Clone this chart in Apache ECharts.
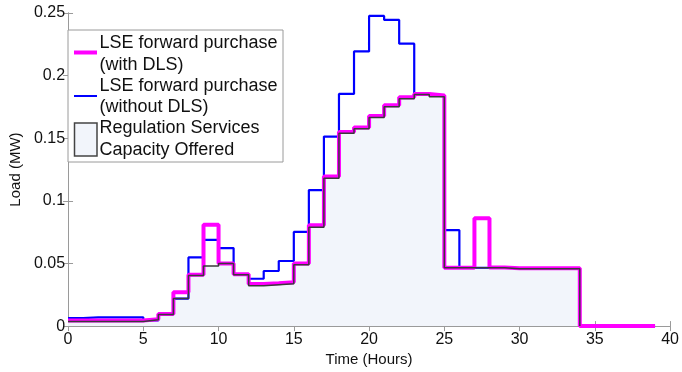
<!DOCTYPE html>
<html>
<head>
<meta charset="utf-8">
<script src="https://cdn.jsdelivr.net/npm/echarts@6/dist/echarts.min.js"></script>
<style>
  html, body { margin: 0; padding: 0; background: #fff; }
  #chart { width: 682px; height: 372px; }
</style>
</head>
<body>
<div id="chart"></div>
<script>
// Hourly load levels (MW); entry i holds the level over hour [i, i+1].
// The final entry is the closing point of each staircase.
const withDLS = [
  0.0045, 0.0045, 0.0045, 0.0045, 0.0045, 0.0055, 0.0096, 0.0270, 0.0410, 0.0810,
  0.0500, 0.0414, 0.0336, 0.0342, 0.0350, 0.0500, 0.0805, 0.1195, 0.1550, 0.1586,
  0.1677, 0.1763, 0.1828, 0.1854, 0.1841, 0.0466, 0.0466, 0.0862, 0.0468, 0.0462,
  0.0462, 0.0462, 0.0462, 0.0462, 0, 0, 0, 0, 0, 0
];
const withoutDLS = [
  0.0063, 0.0070, 0.0070, 0.0070, 0.0070, 0.0045, 0.0096, 0.0220, 0.0548, 0.0688,
  0.0623, 0.0414, 0.0378, 0.0440, 0.0520, 0.0752, 0.1086, 0.1513, 0.1854, 0.2193,
  0.2477, 0.2445, 0.2255, 0.1854, 0.1841, 0.0766, 0.0466, 0.0466, 0.0466, 0.0462,
  0.0462, 0.0462, 0.0462, 0.0462, 0, 0, 0, 0, 0, 0
];
const regulationOffered = [
  0.0037, 0.0037, 0.0037, 0.0037, 0.0037, 0.0050, 0.0092, 0.0220, 0.0405, 0.0480,
  0.0500, 0.0410, 0.0322, 0.0330, 0.0338, 0.0490, 0.0790, 0.1180, 0.1540, 0.1575,
  0.1665, 0.1752, 0.1815, 0.1850, 0.1832, 0.0466, 0.0466, 0.0466, 0.0466, 0.0458,
  0.0458, 0.0458, 0.0458, 0.0458, 0
];
const xTicks = { min: 0, max: 40, interval: 5 };
const yTicks = { min: 0, max: 0.25, interval: 0.05 };
const legendLabels = [
  ['LSE forward purchase', '(with DLS)'],
  ['LSE forward purchase', '(without DLS)'],
  ['Regulation Services', 'Capacity Offered']
];

const FONT = '"Liberation Sans", Arial, Helvetica, sans-serif';
const AXIS_GRAY = '#9a9a9a';
const FILL = '#f2f5fb';

const toPoints = arr => arr.map((v, hour) => [hour, v]);

const baseX = {
  type: 'value', min: xTicks.min, max: xTicks.max, interval: xTicks.interval,
  axisLine: { show: true, lineStyle: { color: AXIS_GRAY, width: 1 } },
  axisTick: { show: true, inside: true, length: 5, lineStyle: { color: AXIS_GRAY } },
  splitLine: { show: false }
};
const baseY = {
  type: 'value', min: yTicks.min, max: yTicks.max, interval: yTicks.interval,
  axisLine: { show: true, lineStyle: { color: AXIS_GRAY, width: 1 } },
  axisTick: { show: true, inside: true, length: 5, lineStyle: { color: AXIS_GRAY } },
  splitLine: { show: false }
};

const chart = echarts.init(document.getElementById('chart'), null, { renderer: 'canvas' });

function legendGraphic() {
  const left = 68, top = 30;
  const els = [
    { type: 'rect', shape: { x: left, y: top, width: 215, height: 132 },
      style: { fill: '#fff', stroke: '#9a9a9a', lineWidth: 1 } },
    { type: 'line', shape: { x1: 74, y1: 52.5, x2: 97, y2: 52.5 },
      style: { stroke: '#ff00ff', lineWidth: 4 } },
    { type: 'line', shape: { x1: 74, y1: 96, x2: 97, y2: 96 },
      style: { stroke: '#0000ff', lineWidth: 2 } },
    { type: 'rect', shape: { x: 74.5, y: 123, width: 22.5, height: 33 },
      style: { fill: FILL, stroke: '#444', lineWidth: 1.5 } }
  ];
  const rows = [[43, 65], [86, 107.5], [128.5, 150]];
  legendLabels.forEach((lines, i) => {
    lines.forEach((t, j) => {
      els.push({ type: 'text', x: 99.5, y: rows[i][j],
        style: { text: t, font: '18px ' + FONT, fill: '#111', verticalAlign: 'middle', align: 'left' } });
    });
  });
  return els.map(e => Object.assign({ z: 100 }, e));
}

chart.setOption({
  animation: false,
  backgroundColor: '#fff',
  grid: { left: 59, right: 9, top: 13, bottom: 39, containLabel: false },
  xAxis: [
    Object.assign({}, baseX, {
      position: 'bottom',
      name: 'Time (Hours)', nameLocation: 'middle', nameGap: 21,
      nameTextStyle: { fontFamily: FONT, fontSize: 15, color: '#111' },
      axisLabel: { fontFamily: FONT, fontSize: 16, color: '#111', margin: 5 }
    }),
    Object.assign({}, baseX, { position: 'top', axisLabel: { show: false } })
  ],
  yAxis: [
    Object.assign({}, baseY, {
      position: 'left',
      name: 'Load (MW)', nameLocation: 'middle', nameGap: 37,
      nameTextStyle: { fontFamily: FONT, fontSize: 15, color: '#111' },
      axisLabel: { fontFamily: FONT, fontSize: 16, color: '#111', margin: 3 }
    }),
    Object.assign({}, baseY, { position: 'right', axisLabel: { show: false } })
  ],
  series: [
    {
      name: 'Regulation Services Capacity Offered (area)',
      type: 'line', step: 'end', data: toPoints(regulationOffered),
      showSymbol: false, symbol: 'none', z: 1,
      lineStyle: { width: 0, opacity: 0 },
      areaStyle: { color: FILL, opacity: 1 }
    },
    {
      name: 'LSE forward purchase (without DLS)',
      type: 'line', step: 'end', data: toPoints(withoutDLS),
      showSymbol: false, symbol: 'none', z: 2,
      lineStyle: { color: '#0000ff', width: 2.2 }
    },
    {
      name: 'LSE forward purchase (with DLS)',
      type: 'line', step: 'end', data: toPoints(withDLS),
      showSymbol: false, symbol: 'none', z: 3,
      lineStyle: { color: '#ff00ff', width: 4 }
    },
    {
      name: 'Regulation Services Capacity Offered',
      type: 'line', step: 'end', data: toPoints(regulationOffered),
      showSymbol: false, symbol: 'none', z: 4,
      lineStyle: { color: '#3a3a3a', width: 1.5 }
    }
  ],
  graphic: legendGraphic()
});
</script>
</body>
</html>
